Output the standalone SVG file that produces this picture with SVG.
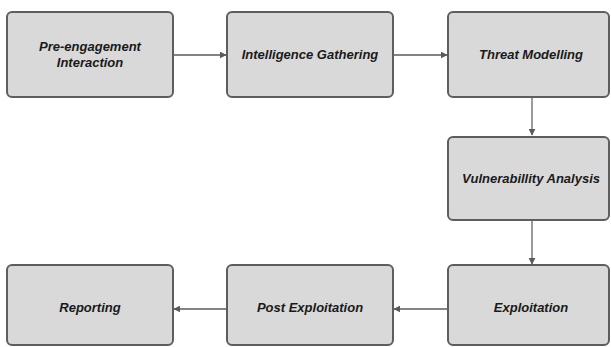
<svg xmlns="http://www.w3.org/2000/svg" width="611" height="347" viewBox="0 0 611 347">
<defs>
<style>
.box{fill:#d9d9d9;stroke:#5e5e5e;stroke-width:2}
.lbl{font-family:"Liberation Sans",Arial,sans-serif;font-weight:bold;font-style:italic;font-size:13px;fill:#1a1a1a;text-anchor:middle}
.conn{stroke:#5a5a5a;stroke-width:1.5;fill:none}
.connv{stroke:#7a7a7a;stroke-width:1.5;fill:none}
</style>
<marker id="ah" viewBox="0 0 10 10" refX="9" refY="5" markerWidth="7" markerHeight="7" markerUnits="userSpaceOnUse" orient="auto">
<path d="M0,0 L10,5 L0,10 Z" fill="#5a5a5a"/>
</marker>
</defs>
<rect width="611" height="347" fill="#ffffff"/>
<g id="connectors">
<line class="conn" x1="173" y1="55" x2="226" y2="55" marker-end="url(#ah)"/>
<line class="conn" x1="393" y1="55" x2="447" y2="55" marker-end="url(#ah)"/>
<line class="connv" x1="532" y1="97" x2="532" y2="135" marker-end="url(#ah)"/>
<line class="connv" x1="532" y1="221" x2="532" y2="264" marker-end="url(#ah)"/>
<line class="conn" x1="448" y1="309" x2="394" y2="309" marker-end="url(#ah)"/>
<line class="conn" x1="227" y1="309" x2="174" y2="309" marker-end="url(#ah)"/>
</g>
<g id="n1"><rect class="box" x="7" y="12" width="166" height="85" rx="5"/><text class="lbl" x="90" y="51">Pre-engagement</text><text class="lbl" x="90" y="67">Interaction</text></g>
<g id="n2"><rect class="box" x="227" y="12" width="166" height="85" rx="5"/><text class="lbl" x="310" y="59">Intelligence Gathering</text></g>
<g id="n3"><rect class="box" x="448" y="12" width="161" height="85" rx="5"/><text class="lbl" x="531" y="59">Threat Modelling</text></g>
<g id="n4"><rect class="box" x="448" y="137" width="161" height="83" rx="5"/><text class="lbl" x="531" y="183">Vulnerabillity Analysis</text></g>
<g id="n5"><rect class="box" x="448" y="265" width="161" height="80" rx="5"/><text class="lbl" x="531" y="312">Exploitation</text></g>
<g id="n6"><rect class="box" x="227" y="265" width="166" height="80" rx="5"/><text class="lbl" x="310" y="312">Post Exploitation</text></g>
<g id="n7"><rect class="box" x="7" y="265" width="166" height="80" rx="5"/><text class="lbl" x="90" y="312">Reporting</text></g>
</svg>
